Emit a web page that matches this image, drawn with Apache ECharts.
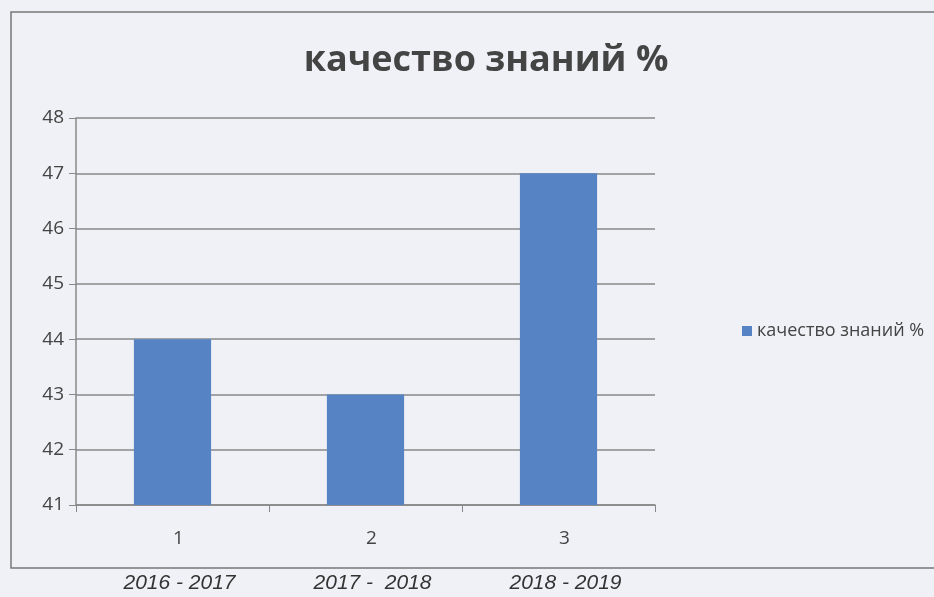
<!DOCTYPE html>
<html><head><meta charset="utf-8">
<script src="https://cdn.jsdelivr.net/npm/echarts@6/dist/echarts.min.js"></script>
<style>html,body{margin:0;padding:0;background:#eff1f6;}#c{width:934px;height:597px;}</style>
</head><body><div id="c"></div>
<script>
var categories = ['1', '2', '3'];
var years = ['2016 - 2017', '2017 -  2018', '2018 - 2019'];
var values = [44, 43, 47];
var seriesName = 'качество знаний %';
var titleText = 'качество знаний %';

var chart = echarts.init(document.getElementById('c'));
chart.setOption({
  backgroundColor: '#eff1f6',
  animation: false,
  title: {
    text: titleText, left: 481, top: 38, textAlign: 'center',
    textStyle: {fontFamily: 'Open Sans', fontWeight: 'bold', fontSize: 36, color: '#444'}
  },
  legend: {
    data: [seriesName], orient: 'vertical', left: 737, top: 317,
    itemWidth: 10, itemHeight: 10, icon: 'rect', itemGap: 5,
    textStyle: {fontFamily: 'Open Sans', fontSize: 18, color: '#444'}
  },
  grid: {left: 76, right: 279, top: 118, bottom: 92},
  xAxis: {
    type: 'category', data: categories,
    axisLine: {lineStyle: {color: '#888', width: 1.5}},
    axisTick: {show: true, length: 7, lineStyle: {color: '#888'}},
    axisLabel: {
      margin: 12,
      formatter: function (v, i) { return '{n|' + v + '}\n{y|' + years[i] + '}'; },
      rich: {
        n: {fontFamily: 'Open Sans', fontSize: 19, color: '#444', lineHeight: 44, padding: [0, 0, 0, 12]},
        y: {fontFamily: 'Liberation Sans', fontStyle: 'italic', fontSize: 21, color: '#333', lineHeight: 44, padding: [0, 0, 0, 14]}
      }
    }
  },
  yAxis: {
    type: 'value', min: 41, max: 48, interval: 1,
    axisLine: {show: true, lineStyle: {color: '#888', width: 1.5}},
    axisTick: {show: true, length: 7, lineStyle: {color: '#888'}},
    splitLine: {lineStyle: {color: '#888', width: 1.5}},
    axisLabel: {fontFamily: 'Open Sans', fontSize: 19, color: '#444', margin: 12}
  },
  series: [{
    name: seriesName, type: 'bar', data: values, barWidth: '40%',
    itemStyle: {color: '#5683c4'}
  }],
  graphic: [{
    type: 'rect', shape: {x: 11, y: 12, width: 940, height: 556},
    style: {fill: 'none', stroke: '#777', lineWidth: 1.5}, silent: true, z: -1
  }]
});
</script></body></html>
